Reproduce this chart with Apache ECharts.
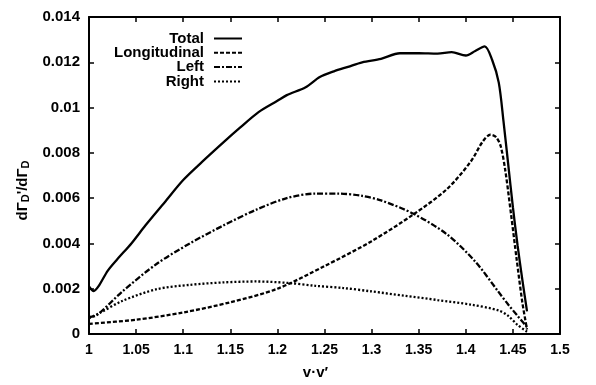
<!DOCTYPE html>
<html><head><meta charset="utf-8">
<script src="https://cdn.jsdelivr.net/npm/echarts@6/dist/echarts.min.js"></script>
<style>html,body{margin:0;padding:0;background:#fff}#c{width:596px;height:385px}</style>
</head><body><div id="c"></div>
<script>
// ---- data ----
const seriesNames = ['Total', 'Longitudinal', 'Left', 'Right'];

const totalX = [1, 1.005, 1.01, 1.02, 1.03, 1.045, 1.06, 1.08, 1.1, 1.12, 1.145, 1.16, 1.18, 1.2, 1.21, 1.23, 1.245, 1.26, 1.275, 1.29, 1.31, 1.33, 1.35, 1.37, 1.385, 1.40, 1.41, 1.42, 1.428, 1.435, 1.44, 1.445, 1.45, 1.455, 1.46, 1.465];
const totalY = [0.0021, 0.0019, 0.0021, 0.0028, 0.0033, 0.0040, 0.0048, 0.0058, 0.0068, 0.0076, 0.00855, 0.0091, 0.0098, 0.0103, 0.01055, 0.0109, 0.01135, 0.0116, 0.0118, 0.0120, 0.01215, 0.0124, 0.0124, 0.01238, 0.01245, 0.0123, 0.0125, 0.0127, 0.0121, 0.0111, 0.0094, 0.0075, 0.0056, 0.0039, 0.0024, 0.0010];

const longX = [1, 1.05, 1.1, 1.15, 1.2, 1.25, 1.3, 1.345, 1.38, 1.405, 1.418, 1.426, 1.432, 1.437, 1.442, 1.448, 1.454, 1.46, 1.465];
const longY = [0.00045, 0.00063, 0.00095, 0.0014, 0.0020, 0.0030, 0.0041, 0.0053, 0.0064, 0.0076, 0.0085, 0.0088, 0.0087, 0.0083, 0.0072, 0.0053, 0.0033, 0.0014, 0.0002];

const leftX = [1, 1.008, 1.036, 1.072, 1.107, 1.143, 1.178, 1.21, 1.24, 1.265, 1.29, 1.31, 1.345, 1.38, 1.41, 1.434, 1.445, 1.455, 1.465];
const leftY = [0.00075, 0.00082, 0.0019, 0.0031, 0.0040, 0.0048, 0.0055, 0.0060, 0.0062, 0.0062, 0.0061, 0.0059, 0.0053, 0.0044, 0.0032, 0.0019, 0.0013, 0.0008, 0.0003];

const rightX = [1, 1.01, 1.036, 1.072, 1.107, 1.143, 1.178, 1.21, 1.24, 1.27, 1.3, 1.335, 1.37, 1.405, 1.435, 1.445, 1.455, 1.465];
const rightY = [0.0007, 0.0009, 0.00147, 0.00198, 0.00217, 0.00228, 0.00232, 0.00226, 0.00213, 0.00203, 0.00188, 0.00169, 0.0015, 0.0013, 0.00104, 0.0008, 0.0004, 0.0001];

const xTickLabels = ['1', '1.05', '1.1', '1.15', '1.2', '1.25', '1.3', '1.35', '1.4', '1.45', '1.5'];
const yTickLabels = ['0', '0.002', '0.004', '0.006', '0.008', '0.01', '0.012', '0.014'];

// ---- chart ----
const FONT = '"Liberation Sans", Arial, sans-serif';
const pair = (xs, ys) => xs.map((x, i) => [x, ys[i]]);
const seriesData = [pair(totalX, totalY), pair(longX, longY), pair(leftX, leftY), pair(rightX, rightY)];
const lineTypes = ['solid', [4, 2], [6, 2, 2, 2], [2, 2]];

const chart = echarts.init(document.getElementById('c'), null, {renderer: 'canvas'});

const axisCommon = {
  axisLine: {show: true, onZero: false, lineStyle: {color: '#000', width: 2}},
  axisTick: {show: true, inside: true, length: 5, lineStyle: {color: '#000', width: 1.5}},
  splitLine: {show: false}
};

const legends = seriesNames.map((n, i) => ({
  data: [n],
  orient: 'vertical',
  align: 'right',
  right: 353,
  top: 31 + i * 14.3,
  padding: 0,
  itemWidth: 28,
  itemHeight: 12,
  selectedMode: false,
  itemStyle: {opacity: 0, borderWidth: 0},
  textStyle: {fontFamily: FONT, fontWeight: 'bold', fontSize: 15, color: '#000', padding: [0, 5, 0, 0]}
}));

chart.setOption({
  animation: false,
  backgroundColor: '#fff',
  grid: {left: 89, right: 36, top: 17, bottom: 48, containLabel: false},
  legend: legends,
  xAxis: [
    Object.assign({}, axisCommon, {
      type: 'value', min: 1, max: 1.5, interval: 0.05, position: 'bottom',
      axisLabel: {margin: 9, fontFamily: FONT, fontWeight: 'bold', fontSize: 14, color: '#000',
        formatter: v => xTickLabels[Math.round((v - 1) / 0.05)]},
      name: 'v·v′', nameLocation: 'middle', nameGap: 31,
      nameTextStyle: {fontFamily: FONT, fontWeight: 'bold', fontSize: 15, color: '#000', padding: [0, 18, 0, 0]}
    }),
    Object.assign({}, axisCommon, {
      type: 'value', min: 1, max: 1.5, interval: 0.05, position: 'top', axisLabel: {show: false}
    })
  ],
  yAxis: [
    Object.assign({}, axisCommon, {
      type: 'value', min: 0, max: 0.014, interval: 0.002, position: 'left',
      axisLabel: {margin: 9, fontFamily: FONT, fontWeight: 'bold', fontSize: 15, color: '#000',
        formatter: v => yTickLabels[Math.round(v / 0.002)]},
      name: '{a|dΓ}{s|D}{a|\'/dΓ}{s|D}', nameLocation: 'middle', nameRotate: 90, nameGap: 47,
      nameTextStyle: {
        padding: [0, 30, 0, 0],
        rich: {
          a: {fontFamily: FONT, fontWeight: 'bold', fontSize: 15, color: '#000', lineHeight: 18},
          s: {fontFamily: FONT, fontWeight: 'bold', fontSize: 11, color: '#000', lineHeight: 18, verticalAlign: 'bottom', padding: [6, 0, 0, 0]}
        }
      }
    }),
    Object.assign({}, axisCommon, {
      type: 'value', min: 0, max: 0.014, interval: 0.002, position: 'right', axisLabel: {show: false}
    })
  ],
  series: seriesNames.map((n, i) => ({
    name: n,
    type: 'line',
    data: seriesData[i],
    xAxisIndex: 0, yAxisIndex: 0,
    smooth: 0.3,
    showSymbol: false,
    symbol: 'none',
    lineStyle: {color: '#000', width: 2.3, type: lineTypes[i]},
    itemStyle: {color: '#000'}
  }))
});
</script></body></html>
